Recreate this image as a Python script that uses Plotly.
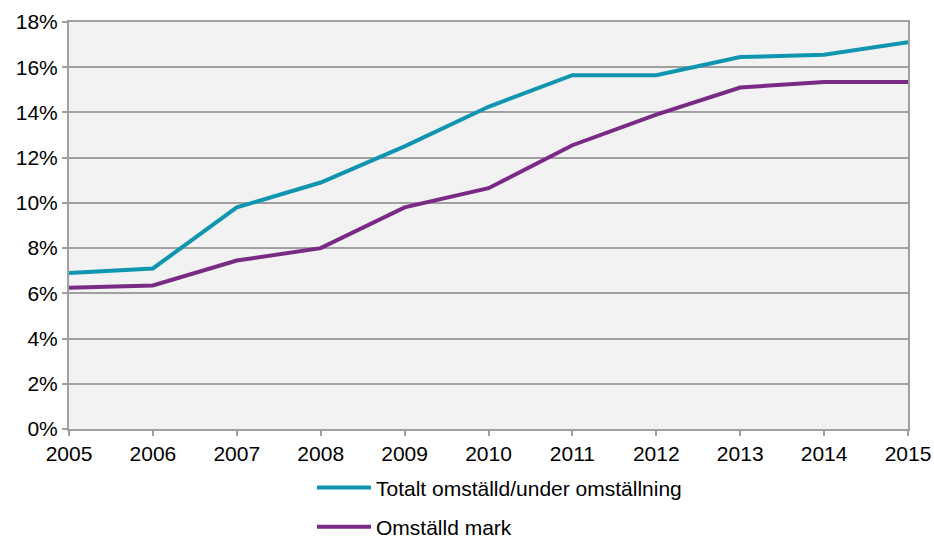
import plotly.graph_objects as go

years = [2005, 2006, 2007, 2008, 2009, 2010, 2011, 2012, 2013, 2014, 2015]
totalt = [6.9, 7.1, 9.8, 10.9, 12.5, 14.25, 15.65, 15.65, 16.45, 16.55, 17.1]
omstalld = [6.25, 6.35, 7.45, 8.0, 9.8, 10.65, 12.55, 13.9, 15.1, 15.35, 15.35]
y_ticks = [0, 2, 4, 6, 8, 10, 12, 14, 16, 18]
y_labels = [f"{v}%" for v in y_ticks]

fig = go.Figure()
fig.add_trace(go.Scatter(x=years, y=totalt, mode='lines', name='Totalt omställd/under omställning',
                         line=dict(color='#0f95b0', width=4), legendgroup='a'))
fig.add_trace(go.Scatter(x=years, y=omstalld, mode='lines', name='Omställd mark',
                         line=dict(color='#792a84', width=4), legendgroup='b'))

fig.update_layout(
    width=934, height=538,
    # fixed margins: the legend sits at the very bottom and should not push the plot
    margin=dict(l=69, r=26, t=22, b=109, autoexpand=False),
    paper_bgcolor='white', plot_bgcolor='#f2f2f2',
    font=dict(family='Liberation Sans, Arial, sans-serif', size=21, color='black'),
    showlegend=True,
    legend=dict(x=0.2896, y=-0.094, xanchor='left', yanchor='top', orientation='v',
                tracegroupgap=9, bgcolor='rgba(0,0,0,0)', itemwidth=54,
                font=dict(size=21)),
)
fig.update_xaxes(range=[2005, 2015], tickvals=years, showgrid=False,
                 showline=True, linecolor='#a0a0a0', linewidth=2, mirror=True,
                 ticks='outside', ticklen=5, tickcolor='#a0a0a0', tickwidth=2, zeroline=False,
                 tickfont=dict(size=21), tickangle=0, automargin=False)
fig.update_yaxes(range=[0, 18], tickvals=y_ticks, ticktext=y_labels,
                 showgrid=True, gridcolor='#a0a0a0', gridwidth=1.5,
                 showline=True, linecolor='#a0a0a0', linewidth=2, mirror=True,
                 ticks='outside', ticklen=5, tickcolor='#a0a0a0', tickwidth=2, zeroline=False,
                 tickfont=dict(size=21), automargin=False)

# drop the default page margin so the 934x538 figure fills the window exactly
fig.write_html("out.html", config={'displayModeBar': False},
               post_script="document.body.style.margin='0';")
